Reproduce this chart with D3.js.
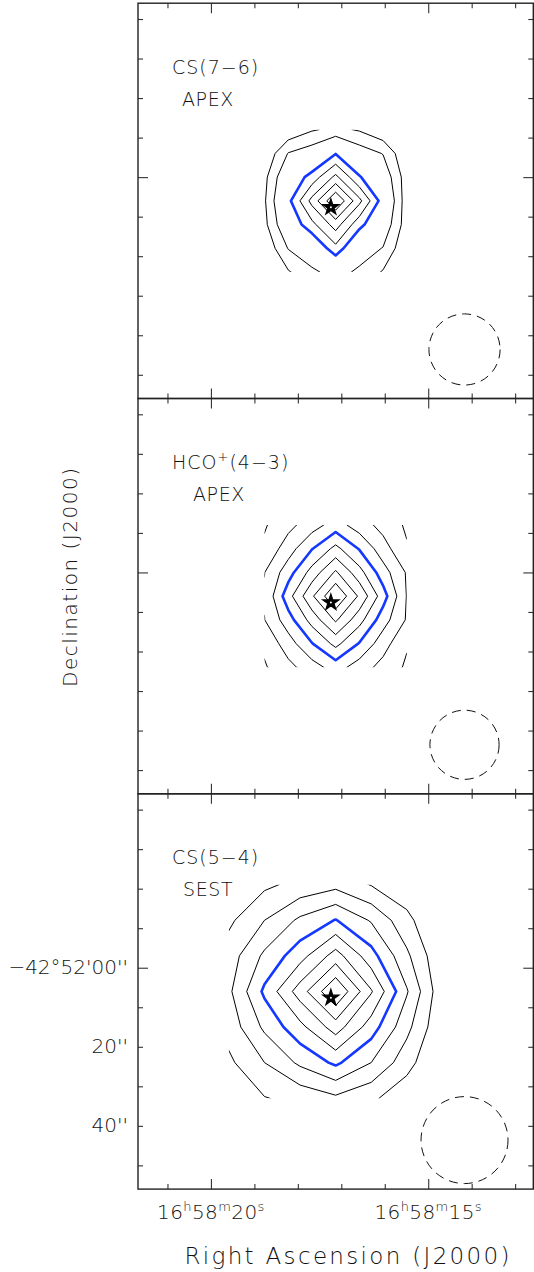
<!DOCTYPE html>
<html>
<head>
<meta charset="utf-8">
<script src="https://cdn.jsdelivr.net/npm/d3@7"></script>
<style>
  body { margin: 0; background: #fff; }
  text { font-family: "DejaVu Sans", sans-serif; font-weight: 200; fill: #111; }
</style>
</head>
<body>
<div id="vis"></div>
<script>
// panel labels
const lines = ["CS(7−6)", "HCO+(4−3)", "CS(5−4)"];
const telescopes = ["APEX", "APEX", "SEST"];

// map grid step and beam FWHM, arcsec
const gridStep = [6, 6, 9];
const beamFwhm = [18, 17.5, 22];

// contour levels (% of peak), 50% drawn in blue
const levelsCS76 = [20, 30, 50, 60, 70, 80, 90];
const levelsHCO = [20, 30, 40, 50, 60, 70, 80, 90];
const levelsCS54 = [20, 30, 40, 50, 60, 70, 80, 90];

// normalised intensity on a 7x7 grid, rows north -> south, columns east -> west
const mapCS76 = [
  [6, 12, 19, 22.5, 19, 12, 5],
  [11.5, 30.5, 36, 49.5, 36, 29.5, 10.9],
  [17.2, 41, 54, 72.6, 51, 37.9, 14.6],
  [18.7, 47, 73.3, 100, 72.8, 44.6, 14],
  [17.2, 41, 57, 74.5, 53.4, 37.9, 14.6],
  [11.5, 30.5, 38, 57, 36, 29.5, 10.9],
  [8, 19, 28, 34, 28, 19, 6],
];
const mapHCO = [
  [19, 27, 35.5, 44.5, 35, 26.5, 18.5],
  [22, 35.3, 49.5, 63, 49.3, 34.3, 21],
  [29.8, 45.6, 64, 81.5, 63.8, 44.4, 29],
  [31, 56, 78.5, 100, 78.3, 54.5, 29.5],
  [29.8, 45.6, 64, 81.5, 63.8, 44.4, 29],
  [22, 35.3, 49.5, 63, 49.3, 34.3, 21],
  [19, 27, 35.5, 44.5, 35, 26.5, 18.5],
];
const mapCS54 = [
  [10, 18, 23, 27, 19.5, 13, 5],
  [18, 30, 42, 50.5, 39, 23, 8],
  [25, 42, 56, 74.4, 54, 32, 11],
  [28, 52, 75, 100, 71, 41, 12.5],
  [24, 42, 57, 75, 55, 33, 11],
  [18, 30, 42, 52, 40, 24, 8],
  [10, 19.5, 23, 28, 22, 13, 5],
];

// axes: RA in seconds of 16h58m, Dec in arcsec south of -42°52'00"
const raTicks = [13, 14, 15, 16, 17, 18, 19, 20, 21];
const raMajor = [15, 20];
const decTicks = [-40, -30, -20, -10, 0, 10, 20, 30, 40, 50];
const decMajor = [0];
const decLabelValues = [0, 20, 40];
const decLabelText = ["−42°52'00''", "20''", "40''"];

// map centre and source position
const ra0 = 17.13, dec0 = 6.0;
const starRa = 17.24, starDec = 7.6;
// beam position, arcsec offset from map centre (east, north)
const beamOffset = [-32.6, -37.6];

const maps = [mapCS76, mapHCO, mapCS54];
const levels = [levelsCS76, levelsHCO, levelsCS54];

const padLeft = 138, padTop = 3.2, size = 395.3, half = 50;
const cosDec = Math.cos((42 + 52 / 60 + 6 / 3600) * Math.PI / 180);
const raHalf = half / (15 * cosDec);

var svg = d3.select("#vis").append("svg")
  .attr("width", 534).attr("height", 1272);

// offsets in arcsec (east, north) -> pixels
var x = d3.scaleLinear().domain([half, -half]).range([0, size]);
var y = d3.scaleLinear().domain([half, -half]).range([0, size]);
var ra = d3.scaleLinear().domain([ra0 + raHalf, ra0 - raHalf]).range([0, size]);
var dec = d3.scaleLinear().domain([dec0 - half, dec0 + half]).range([0, size]);

const tellX = [44, 55, 45];

maps.forEach(function (grid, p) {
  const g = svg.append("g")
    .attr("transform", `translate(${padLeft},${padTop + p * size})`);
  const sp = gridStep[p];

  // clip to the sampled area so open contours end at its edge
  g.append("clipPath").attr("id", "clip" + p)
    .append("rect")
    .attr("x", x(3 * sp)).attr("y", y(3 * sp))
    .attr("width", x(-3 * sp) - x(3 * sp))
    .attr("height", y(-3 * sp) - y(3 * sp));

  const proj = d3.geoTransform({
    point: function (gx, gy) {
      this.stream.point(x((3.5 - gx) * sp), y((3.5 - gy) * sp));
    },
  });
  const path = d3.geoPath(proj);

  const cont = d3.contours().size([7, 7]).thresholds(levels[p])(grid.flat());

  g.append("g")
    .attr("clip-path", `url(#clip${p})`)
    .selectAll("path")
    .data(cont.sort((a, b) => (a.value === 50) - (b.value === 50)))
    .join("path")
    .attr("d", path)
    .attr("fill", "none")
    .attr("stroke", (d) => (d.value === 50 ? "#1438ff" : "#000"))
    .attr("stroke-width", (d) => (d.value === 50 ? 2.6 : 1))
    .attr("stroke-linejoin", "round");

  // beam
  g.append("circle")
    .attr("cx", x(beamOffset[0]))
    .attr("cy", y(beamOffset[1]))
    .attr("r", x(0) - x(beamFwhm[p] / 2))
    .attr("fill", "none")
    .attr("stroke", "#111")
    .attr("stroke-width", 1)
    .attr("stroke-dasharray", "9,6");

  // source
  const sx = x((starRa - ra0) * 15 * cosDec);
  const sy = y(dec0 - starDec);
  g.append("path")
    .attr("d", d3.symbol(d3.symbolStar, 78)())
    .attr("transform", `translate(${sx},${sy})`)
    .attr("fill", "#000")
    .attr("stroke", "#000")
    .attr("stroke-width", 1.3);
  g.append("circle").attr("cx", sx).attr("cy", sy).attr("r", 1).attr("fill", "#fff");

  // ticks on all sides, pointing in
  function ticks(axis, tr, vals, len) {
    const a = g.append("g").attr("transform", tr)
      .call(axis.tickValues(vals).tickSize(-len).tickFormat(""));
    a.select(".domain").remove();
    a.selectAll("line").attr("stroke", "#333").attr("stroke-width", 1.1);
  }
  const raMinor = raTicks.filter((d) => !raMajor.includes(d));
  const decMinor = decTicks.filter((d) => !decMajor.includes(d));
  ticks(d3.axisBottom(ra), `translate(0,${size})`, raMinor, 5);
  ticks(d3.axisBottom(ra), `translate(0,${size})`, raMajor, 10);
  ticks(d3.axisTop(ra), "translate(0,0)", raMinor, 5);
  ticks(d3.axisTop(ra), "translate(0,0)", raMajor, 10);
  ticks(d3.axisLeft(dec), "translate(0,0)", decMinor, 5);
  ticks(d3.axisLeft(dec), "translate(0,0)", decMajor, 10);
  ticks(d3.axisRight(dec), `translate(${size},0)`, decMinor, 5);
  ticks(d3.axisRight(dec), `translate(${size},0)`, decMajor, 10);

  g.append("rect")
    .attr("width", size).attr("height", size)
    .attr("fill", "none").attr("stroke", "#222").attr("stroke-width", 1.4);

  // labels
  const lab = g.append("text")
    .attr("x", 34).attr("y", 70.5)
    .attr("font-size", 19).attr("letter-spacing", 1);
  if (lines[p].includes("+")) {
    const parts = lines[p].split("+");
    lab.append("tspan").text(parts[0]);
    lab.append("tspan").attr("font-size", 13).attr("dy", -8).text("+");
    lab.append("tspan").attr("dy", 8).text(parts[1]);
  } else {
    lab.text(lines[p]);
  }
  g.append("text")
    .attr("x", tellX[p]).attr("y", 102.5)
    .attr("font-size", 19).attr("letter-spacing", 0.6)
    .text(telescopes[p]);

  if (p === 2) {
    // RA labels
    g.selectAll(".ralab")
      .data(raMajor)
      .join("text")
      .attr("class", "ralab")
      .attr("x", (d) => ra(d))
      .attr("y", size + 30)
      .attr("text-anchor", "middle")
      .attr("font-size", 20)
      .attr("letter-spacing", 0.4)
      .each(function (d) {
        const t = d3.select(this);
        const bits = [["16", "h"], ["58", "m"], [String(d), "s"]];
        bits.forEach(function (b, i) {
          t.append("tspan").attr("dy", i === 0 ? 0 : 8).text(b[0]);
          t.append("tspan").attr("font-size", 13).attr("dy", -8).text(b[1]);
        });
      });

    // Dec labels
    g.selectAll(".declab")
      .data(decLabelValues)
      .join("text")
      .attr("class", "declab")
      .attr("x", -10)
      .attr("y", (d) => dec(d) + 6)
      .attr("text-anchor", "end")
      .attr("font-size", 20)
      .text((d, i) => decLabelText[i]);
  }
});

svg.append("text")
  .attr("x", 347)
  .attr("y", 1264)
  .attr("text-anchor", "middle")
  .attr("font-size", 23)
  .attr("textLength", 325)
  .attr("lengthAdjust", "spacing")
  .text("Right Ascension (J2000)");

svg.append("text")
  .attr("transform", "translate(77,577.5) rotate(-90)")
  .attr("text-anchor", "middle")
  .attr("font-size", 20)
  .attr("textLength", 219)
  .attr("lengthAdjust", "spacing")
  .text("Declination (J2000)");
</script>
</body>
</html>
